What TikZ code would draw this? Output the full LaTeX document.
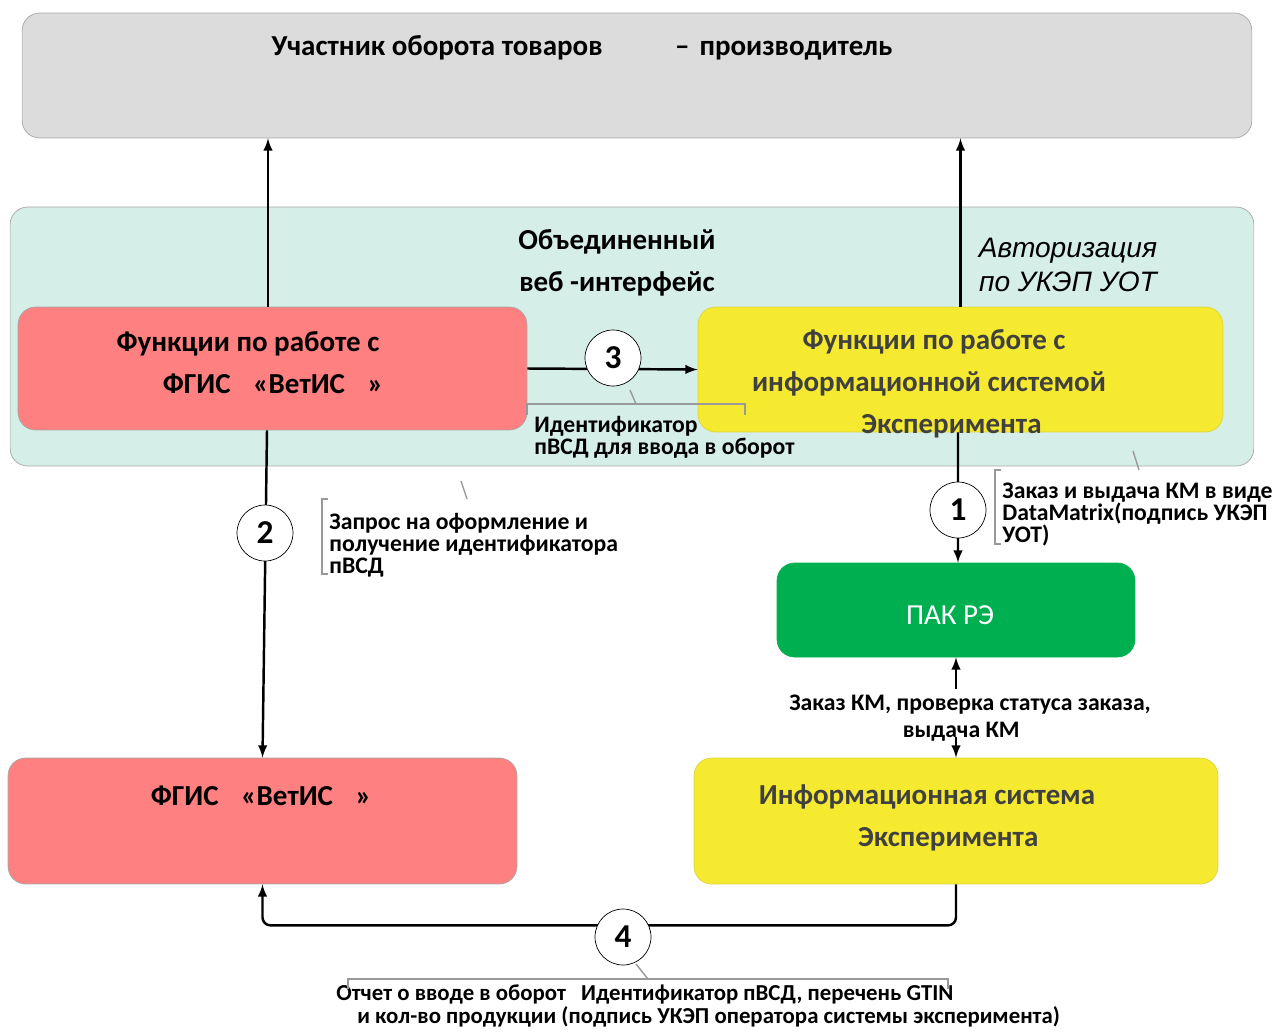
\documentclass[tikz,border=0pt]{standalone}
\usepackage{fontspec}
\setmainfont{Carlito}
\newfontfamily\arialfont{Liberation Sans}
\usetikzlibrary{arrows}

\definecolor{uotgray}{HTML}{DCDCDC}
\definecolor{webteal}{HTML}{D6EEE8}
\definecolor{vetred}{HTML}{FF8080}
\definecolor{expyellow}{HTML}{F5EA2F}
\definecolor{pakgreen}{HTML}{00B050}
\definecolor{edgegray}{HTML}{A6A6A6}
\definecolor{textgray}{HTML}{404040}

\tikzset{
  box/.style={draw=edgegray, rounded corners=10pt, inner sep=0pt},
  boxtext/.style={font=\fontsize{16.5}{23.8}\selectfont\bfseries, align=center},
  note/.style={font=\fontsize{13.5}{12.5}\selectfont\bfseries, align=left, anchor=north west, inner sep=0pt},
  num/.style={draw, circle, fill=white, minimum size=1.12cm, inner sep=0pt, font=\fontsize{19}{19}\selectfont\bfseries},
  flow/.style={-latex, line width=1.4pt},
  brace/.style={draw=gray!80, line width=0.8pt}
}

\begin{document}
\begin{tikzpicture}[x=0.02cm, y=-0.02cm]
\useasboundingbox (0,0) rectangle (1286,1032);

% boxes
\node[box, fill=uotgray, minimum width=24.6cm, minimum height=2.5cm] (uot) at (637,75.5) {};
\node[box, fill=webteal, minimum width=24.88cm, minimum height=5.18cm] (web) at (632,336.5) {};
\node[box, fill=vetred, minimum width=10.18cm, minimum height=2.46cm] (vetfunc) at (272.5,368.5) {};
\node[box, fill=expyellow, draw=expyellow!80!gray, minimum width=10.5cm, minimum height=2.5cm] (isfunc) at (960.5,369.5) {};
\node[box, fill=pakgreen, draw=pakgreen, minimum width=7.16cm, minimum height=1.88cm] (pak) at (956,610) {};
\node[box, fill=vetred, minimum width=10.18cm, minimum height=2.52cm] (vetis) at (262.5,821) {};
\node[box, fill=expyellow, draw=expyellow!80!gray, minimum width=10.48cm, minimum height=2.52cm] (isexp) at (956,821) {};

% texts
\node[boxtext] (uottext) at (582,48) {Участник оборота товаров\hspace{1.45cm}–\hspace{0.2cm}производитель};
\node[boxtext] (webtext) at (617,263) {Объединенный\\веб -интерфейс};
\node[font=\fontsize{16}{19.5}\selectfont\arialfont\itshape, align=center] (authtext) at (1068,265) {Авторизация\\по УКЭП УОТ};
\node[boxtext] (vetfunctext) at (248,363) {Функции по работе с\\\hspace{1cm}ФГИС\hspace{0.45cm}«ВетИС\hspace{0.45cm}»};
\node[boxtext, text=textgray] (isfunctext) at (929,384) {\hspace{0.2cm}Функции по работе с\\информационной системой\\\hspace{0.9cm}Эксперимента};
\node[font=\fontsize{16.5}{20}\selectfont, text=white] (paktext) at (950,615) {ПАК РЭ};
\node[boxtext] (vetistext) at (261,796) {ФГИС\hspace{0.45cm}«ВетИС\hspace{0.45cm}»};
\node[boxtext, text=textgray] (isexptext) at (927,818) {Информационная система\\\hspace{0.85cm}Эксперимента};

% arrows
\draw[flow] ([xshift=-0.09cm]vetfunc.north) -- ([xshift=-0.09cm]vetfunc.north |- uot.south);
\draw[flow] (isfunc.north) -- (isfunc.north |- uot.south);
\draw[flow] (vetfunc.east) -- (isfunc.west);
\draw[flow] ([xshift=-0.11cm]vetfunc.south) -- (vetis.north);
\draw[flow] ([xshift=-0.05cm]isfunc.south) -- ([xshift=0.04cm]pak.north);
\draw[flow, rounded corners=4.5pt] (isexp.south) -- ++(0,41) -| (vetis.south);

\node[font=\fontsize{13.5}{15}\selectfont\bfseries, align=center] (kmtext) at (970,718) {Заказ КМ, проверка статуса заказа,\\\hspace{-0.35cm}выдача КМ};
\draw[flow] (pak.south |- kmtext.north) -- (pak.south);
\draw[flow] ([yshift=6pt]isexp.north |- kmtext.south) -- (isexp.north);

% numbers
\node[num] (c1) at (958,510) {1};
\node[num] (c2) at (265,533) {2};
\node[num] (c3) at (613,358) {3};
\node[num] (c4) at (623,937) {4};

% notes
\node[note] (idnote) at (534,416) {Идентификатор\\пВСД для ввода в оборот};
\draw[brace] (527,415) -- (527,404) -- (745,404) -- (745,415);
\draw[brace] (630,390) -- (636,404);

\node[note] (reqnote) at (329,513) {Запрос на оформление и\\получение идентификатора\\пВСД};
\draw[brace] (328,499) -- (322,499) -- (322,574) -- (328,574);
\draw[brace] (461,481) -- (467,499);

\node[note] (ordnote) at (1002,483) {Заказ и выдача КМ в виде\\DataMatrix(подпись УКЭП\\УОТ)};
\draw[brace] (1001,470) -- (995,470) -- (995,544) -- (1001,544);
\draw[brace] (1133,451) -- (1139,470);

\node[note, font=\fontsize{13}{13.4}\selectfont\bfseries] (repnote) at (336,984) {Отчет о вводе в оборот\hspace{0.3cm}Идентификатор пВСД, перечень GTIN\\\hspace{0.42cm}и кол-во продукции (подпись УКЭП оператора системы эксперимента)};
\draw[brace] (348,989) -- (348,979) -- (948,979) -- (948,989);
\draw[brace] (636,964) -- (648,979);

\end{tikzpicture}
\end{document}
